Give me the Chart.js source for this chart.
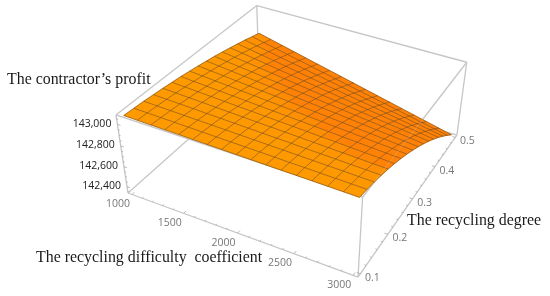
<!DOCTYPE html>
<html>
<head>
<meta charset="utf-8">
<style>
  html, body { margin: 0; padding: 0; background: #fff; }
  #chart { display: block; }
</style>
<script src="https://cdn.jsdelivr.net/npm/chart.js@4"></script>
</head>
<body>
<canvas id="chart" width="550" height="296"></canvas>
<script>
// axes
const difficulty = [1000, 1125, 1250, 1375, 1500, 1625, 1750, 1875, 2000, 2125, 2250, 2375, 2500, 2625, 2750, 2875, 3000];
const degree = [0.1, 0.125, 0.15, 0.175, 0.2, 0.225, 0.25, 0.275, 0.3, 0.325, 0.35, 0.375, 0.4, 0.425, 0.45, 0.475, 0.5];

const difficultyTicks = [1000, 1500, 2000, 2500, 3000];
const degreeTicks = [0.1, 0.2, 0.3, 0.4, 0.5];
const profitTicks = [142400, 142600, 142800, 143000];

// profit: one row per recycling degree, one column per difficulty
const profit = [
  [143070, 143068, 143066, 143064, 143063, 143061, 143059, 143057, 143055, 143053, 143051, 143049, 143048, 143046, 143044, 143042, 143040],
  [143064, 143062, 143059, 143057, 143054, 143052, 143049, 143047, 143044, 143042, 143039, 143036, 143034, 143031, 143029, 143026, 143024],
  [143058, 143054, 143051, 143047, 143044, 143041, 143037, 143034, 143031, 143027, 143024, 143021, 143017, 143014, 143011, 143007, 143004],
  [143049, 143045, 143041, 143037, 143032, 143028, 143024, 143019, 143015, 143011, 143007, 143002, 142998, 142994, 142989, 142985, 142981],
  [143040, 143035, 143029, 143024, 143018, 143013, 143008, 143002, 142997, 142992, 142986, 142981, 142975, 142970, 142965, 142959, 142954],
  [143029, 143023, 143016, 143010, 143003, 142996, 142990, 142983, 142976, 142970, 142963, 142956, 142950, 142943, 142936, 142930, 142923],
  [143018, 143009, 143001, 142993, 142985, 142977, 142969, 142961, 142953, 142945, 142937, 142929, 142921, 142913, 142905, 142897, 142889],
  [143004, 142995, 142985, 142976, 142966, 142957, 142947, 142937, 142928, 142918, 142909, 142899, 142890, 142880, 142870, 142861, 142851],
  [142990, 142979, 142968, 142956, 142945, 142934, 142923, 142911, 142900, 142889, 142878, 142866, 142855, 142844, 142833, 142821, 142810],
  [142974, 142961, 142948, 142935, 142922, 142909, 142896, 142883, 142870, 142857, 142844, 142831, 142817, 142804, 142791, 142778, 142765],
  [142958, 142942, 142927, 142912, 142897, 142882, 142867, 142852, 142837, 142822, 142807, 142792, 142777, 142762, 142747, 142732, 142717],
  [142939, 142922, 142905, 142888, 142871, 142854, 142836, 142819, 142802, 142785, 142768, 142750, 142733, 142716, 142699, 142682, 142665],
  [142920, 142901, 142881, 142862, 142842, 142823, 142803, 142784, 142764, 142745, 142726, 142706, 142687, 142667, 142648, 142628, 142609],
  [142899, 142878, 142856, 142834, 142812, 142790, 142768, 142746, 142724, 142703, 142681, 142659, 142637, 142615, 142593, 142571, 142550],
  [142878, 142853, 142829, 142804, 142780, 142755, 142731, 142706, 142682, 142658, 142633, 142609, 142584, 142560, 142535, 142511, 142487],
  [142854, 142827, 142800, 142773, 142746, 142719, 142692, 142664, 142637, 142610, 142583, 142556, 142529, 142502, 142474, 142447, 142420],
  [142830, 142800, 142770, 142740, 142710, 142680, 142650, 142620, 142590, 142560, 142530, 142500, 142470, 142440, 142410, 142380, 142350],
];

// plot box, with the 2% padding the surface has inside it
const xRange = [960, 3040];
const yRange = [0.092, 0.508];
const zRange = [142335, 143085];

// perspective view of the box, in page pixels
const view = {
  origin: [128, 193],
  xAxis: [197.8, 59.1],
  yAxis: [185, -101],
  zAxis: [-19.7, -85.6],
  persp: [-0.09, 0.208, -0.0658],
};

function projectUnit(u, v, t) {
  const w = 1 + view.persp[0] * u + view.persp[1] * v + view.persp[2] * t;
  return {
    x: (view.origin[0] + view.xAxis[0] * u + view.yAxis[0] * v + view.zAxis[0] * t) / w,
    y: (view.origin[1] + view.xAxis[1] * u + view.yAxis[1] * v + view.zAxis[1] * t) / w,
  };
}

const toU = (x) => (x - xRange[0]) / (xRange[1] - xRange[0]);
const toV = (y) => (y - yRange[0]) / (yRange[1] - yRange[0]);
const toT = (z) => (z - zRange[0]) / (zRange[1] - zRange[0]);
const project = (x, y, z) => projectUnit(toU(x), toV(y), toT(z));

function lineSet(points, color, width, order) {
  return {
    data: points,
    showLine: true,
    borderColor: color,
    borderWidth: width,
    pointRadius: 0,
    fill: false,
    tension: 0,
    order: order,
  };
}

const datasets = [];
const boxColor = "#c6c6c6";

// back and hidden edges go under the surface
[
  [[0, 0, 0], [0, 1, 0]],
  [[0, 1, 0], [0, 1, 1]],
  [[0, 1, 0], [1, 1, 0]],
  [[0, 0, 1], [1, 0, 1]],
  [[1, 0, 1], [1, 1, 1]],
  [[0, 0, 1], [0, 1, 1]],
  [[0, 1, 1], [1, 1, 1]],
  [[1, 1, 0], [1, 1, 1]],
  [[0, 0, 0], [0, 0, 1]],
  [[1, 0, 0], [1, 0, 1]],
  [[0, 0, 0], [1, 0, 0]],
  [[1, 0, 0], [1, 1, 0]],
].forEach((edge) => {
  datasets.push(lineSet(edge.map((c) => projectUnit(c[0], c[1], c[2])), boxColor, 1.3, 5));
});

// ticks
function addTick(from, to, order) {
  datasets.push(lineSet([from, to], "#a8a8a8", 0.8, order));
}
for (let x = 1000; x <= 3000; x += 100) {
  const len = difficultyTicks.includes(x) ? 0.016 : 0.008;
  addTick(projectUnit(toU(x), 0, 0), projectUnit(toU(x), len, 0), 4);
}
for (let i = 0; i <= 20; i++) {
  const y = 0.1 + i * 0.02;
  const len = i % 5 === 0 ? 0.014 : 0.007;
  addTick(projectUnit(1, toV(y), 0), projectUnit(1 - len, toV(y), 0), 4);
}
for (let z = 142350; z <= 143050; z += 50) {
  const len = profitTicks.includes(z) ? 0.014 : 0.007;
  addTick(projectUnit(0, 0, toT(z)), projectUnit(len, 0, toT(z)), 4);
}

// surface cells, darker only where the surface falls fastest
for (let j = 0; j < degree.length - 1; j++) {
  for (let i = 0; i < difficulty.length - 1; i++) {
    const drop = Math.min(1, (profit[j][i + 1] - profit[j + 1][i + 1]) / 30);
    const shade = Math.pow(drop, 8);
    const color = `rgb(255,${153 - 24 * shade},${shade * 6})`;
    datasets.push({
      data: [
        project(difficulty[i], degree[j], profit[j][i]),
        project(difficulty[i + 1], degree[j], profit[j][i + 1]),
        project(difficulty[i + 1], degree[j + 1], profit[j + 1][i + 1]),
        project(difficulty[i], degree[j + 1], profit[j + 1][i]),
        project(difficulty[i], degree[j], profit[j][i]),
      ],
      showLine: true,
      backgroundColor: color,
      borderColor: color,
      borderWidth: 0.6,
      pointRadius: 0,
      fill: "shape",
      tension: 0,
      order: 3,
    });
  }
}

// mesh lines
const meshColor = "rgba(110,72,26,0.72)";
degree.forEach((y, j) => {
  datasets.push(lineSet(difficulty.map((x, i) => project(x, y, profit[j][i])), meshColor, 0.8, 2));
});
difficulty.forEach((x, i) => {
  datasets.push(lineSet(degree.map((y, j) => project(x, y, profit[j][i])), meshColor, 0.8, 2));
});

// the front right edge shows faintly across the surface
datasets.push(lineSet([projectUnit(1, 0, 1), projectUnit(1, 1, 1)], "rgba(215,205,190,0.3)", 1, 1));

// tick labels and axis titles
const labelsPlugin = {
  id: "labels3d",
  afterDraw(chart) {
    const ctx = chart.ctx;
    const px = (p) => ({ x: chart.scales.x.getPixelForValue(p.x), y: chart.scales.y.getPixelForValue(p.y) });
    ctx.save();
    ctx.textBaseline = "middle";

    ctx.font = "10.5px 'Open Sans'";
    ctx.fillStyle = "#777";
    ctx.textAlign = "center";
    difficultyTicks.forEach((x) => {
      const p = px(projectUnit(toU(x), 0, 0));
      ctx.fillText(String(x), p.x - 14, p.y + 9.5);
    });
    degreeTicks.forEach((y) => {
      const p = px(projectUnit(1, toV(y), 0));
      ctx.fillText(y.toFixed(1), p.x + 12, p.y + 4);
    });

    ctx.fillStyle = "#222";
    ctx.textAlign = "right";
    profitTicks.forEach((z) => {
      const p = px(projectUnit(0, 0, toT(z)));
      ctx.fillText(z.toLocaleString("en-US"), p.x - 6, p.y - 0.5);
    });

    ctx.font = "15.9px 'Liberation Serif'";
    ctx.fillStyle = "#1a1a1a";
    ctx.textAlign = "left";
    ctx.textBaseline = "alphabetic";
    ctx.fillText("The contractor\u2019s profit", 7, 84);
    ctx.fillText("The recycling difficulty  coefficient", 36, 262);
    ctx.fillText("The recycling degree", 407, 225);
    ctx.restore();
  },
};

new Chart(document.getElementById("chart"), {
  type: "scatter",
  data: { datasets: datasets },
  options: {
    responsive: false,
    animation: false,
    events: [],
    layout: { padding: 0 },
    scales: {
      x: { type: "linear", min: 0, max: 550, display: false },
      y: { type: "linear", min: 0, max: 296, reverse: true, display: false },
    },
    plugins: { legend: { display: false }, tooltip: { enabled: false } },
  },
  plugins: [labelsPlugin],
});
</script>
</body>
</html>
